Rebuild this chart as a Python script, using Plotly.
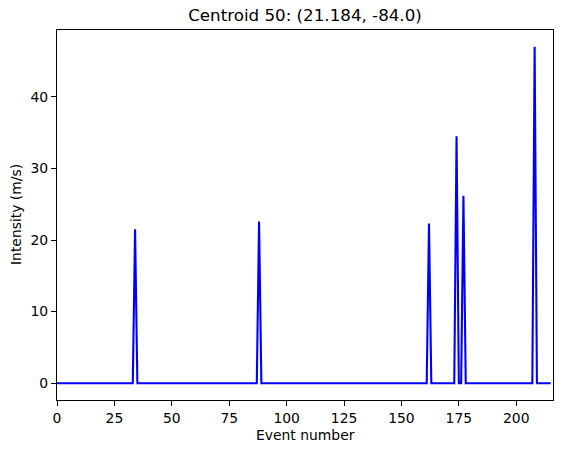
import plotly.graph_objects as go

# Data
n_events = 216
spike_events = [34, 88, 162, 174, 177, 208]
spike_values = [21.5, 22.6, 22.3, 34.5, 26.2, 47.0]

events = list(range(n_events))
intensity = [0.0] * n_events
for e, v in zip(spike_events, spike_values):
    intensity[e] = v

title_text = "Centroid 50: (21.184, -84.0)"
x_label = "Event number"
y_label = "Intensity (m/s)"
x_ticks = [0, 25, 50, 75, 100, 125, 150, 175, 200]
y_ticks = [0, 10, 20, 30, 40]

font_family = "DejaVu Sans"
W, H = 563, 453
L, R, T, B = 57, 553, 30, 400

ymax = max(intensity)
ymin = min(intensity)
pad = 0.05 * (ymax - ymin)

fig = go.Figure()
fig.add_trace(go.Scatter(
    x=events, y=intensity, mode="lines",
    line=dict(color="#0000ff", width=2.1),
    showlegend=False,
))

axis_common = dict(
    showgrid=False, zeroline=False, automargin=False,
    showline=True, linecolor="black", linewidth=1.1, mirror=True,
    ticks="outside", ticklen=5, tickwidth=1.1, tickcolor="black",
    tickfont=dict(family=font_family, size=13.9, color="black"),
)

fig.update_layout(
    width=W, height=H,
    margin=dict(l=L, r=W - R, t=T, b=H - B, autoexpand=False),
    paper_bgcolor="white", plot_bgcolor="white",
    font=dict(family=font_family, color="black"),
    title=dict(text=title_text, x=(L + R) / 2 / W, xanchor="center",
               y=1 - 15.5 / H, yanchor="middle",
               font=dict(family=font_family, size=16.7, color="black")),
    xaxis=dict(range=[0, n_events], tickvals=x_ticks, **axis_common),
    yaxis=dict(range=[ymin - pad, ymax + pad], tickvals=y_ticks, **axis_common),
    annotations=[
        dict(text=x_label, xref="paper", yref="paper",
             x=0.5, y=-(435 - B) / (B - T), xanchor="center", yanchor="middle",
             showarrow=False, font=dict(family=font_family, size=13.9, color="black")),
        dict(text=y_label, xref="paper", yref="paper", textangle=-90,
             x=-(L - 16) / (R - L), y=0.5, xanchor="center", yanchor="middle",
             showarrow=False, font=dict(family=font_family, size=13.9, color="black")),
    ],
)

fig.write_html("out.html", config={"displayModeBar": False},
               post_script="document.body.style.margin='0px';")
